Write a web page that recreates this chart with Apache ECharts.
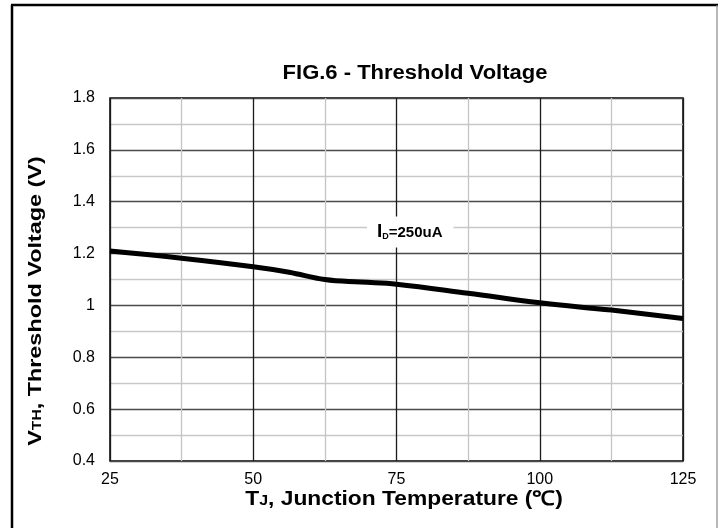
<!DOCTYPE html>
<html>
<head>
<meta charset="utf-8">
<script src="https://cdn.jsdelivr.net/npm/echarts@6/dist/echarts.min.js"></script>
<style>
html,body{margin:0;padding:0;background:#fff;}
#c{width:718px;height:528px;}
</style>
</head>
<body>
<div id="c"></div>
<script>
// Data
var tempC = [25, 37.5, 50, 56.25, 62.5, 68.75, 75, 87.5, 100, 112.5, 125];
var vth   = [1.21, 1.182, 1.149, 1.128, 1.100, 1.090, 1.082, 1.047, 1.010, 0.982, 0.950];
var xTicks = [25, 50, 75, 100, 125];
var yTicks = [0.4, 0.6, 0.8, 1, 1.2, 1.4, 1.6, 1.8];
var titleText = 'FIG.6 - Threshold Voltage';
var annotation = {x: 77.4, y: 1.283};

var chart = echarts.init(document.getElementById('c'), null, {renderer: 'canvas'});
var FONT = '"Liberation Sans", Arial, sans-serif';

var option = {
  animation: false,
  backgroundColor: '#fff',
  grid: {left: 110, right: 35, top: 98, bottom: 67, show: true, borderColor: '#000', borderWidth: 1.5, backgroundColor: 'transparent'},
  xAxis: {
    type: 'value', min: 25, max: 125, interval: 12.5,
    axisLine: {show: false}, axisTick: {show: false},
    axisLabel: {
      fontFamily: FONT, fontSize: 16, color: '#000', margin: 11,
      formatter: function (v) { return xTicks.indexOf(v) >= 0 ? String(v) : ''; }
    },
    splitLine: {show: true, lineStyle: {color: ['#1a1a1a', '#c4c4c4'], width: 1.3}}
  },
  yAxis: {
    type: 'value', min: 0.4, max: 1.8, interval: 0.1,
    axisLine: {show: false}, axisTick: {show: false},
    axisLabel: {
      fontFamily: FONT, fontSize: 16, color: '#000', margin: 15,
      formatter: function (v) {
        var r = Math.round(v * 10) / 10;
        for (var i = 0; i < yTicks.length; i++) { if (Math.abs(yTicks[i] - r) < 1e-6) return String(yTicks[i]); }
        return '';
      }
    },
    splitLine: {show: true, lineStyle: {color: ['#4a4a4a', '#c8c8c8'], width: 1.3}}
  },
  series: [{
    type: 'line',
    data: tempC.map(function (t, i) { return [t, vth[i]]; }),
    smooth: 0.4,
    symbol: 'none',
    lineStyle: {color: '#000', width: 5},
    z: 5,
    markPoint: {
      symbol: 'rect', symbolSize: 1,
      itemStyle: {color: 'rgba(0,0,0,0)'},
      data: [{coord: [annotation.x, annotation.y]}],
      label: {
        show: true, position: 'inside',
        backgroundColor: '#fff', padding: [6, 11, 6, 10],
        formatter: function () { return '{i|I}{b|D}{a|=250uA}'; },
        rich: {
          i: {fontFamily: FONT, fontSize: 19, fontWeight: 'bold', color: '#000'},
          a: {fontFamily: FONT, fontSize: 15, fontWeight: 'bold', color: '#000', padding: [2, 0, 0, 0]},
          b: {fontFamily: FONT, fontSize: 9, fontWeight: 'bold', color: '#000', padding: [9, 0, 0, 0]}
        }
      }
    }
  }],
  graphic: [
    {type: 'text', x: 415, y: 73, scaleX: 1.1, style: {text: titleText, fontFamily: FONT, fontSize: 20, fontWeight: 'bold', fill: '#000', align: 'center', verticalAlign: 'middle'}},
    {type: 'text', x: 404, y: 499, scaleX: 1.14, style: {
      text: '{a|T}{b|J}{a|, Junction Temperature (℃)}', align: 'center', verticalAlign: 'middle',
      rich: {
        a: {fontFamily: FONT, fontSize: 20, fontWeight: 'bold', fill: '#000'},
        b: {fontFamily: FONT, fontSize: 14, fontWeight: 'bold', fill: '#000', padding: [4, 0, 0, 0]}
      }}},
    {type: 'text', x: 36, y: 301, rotation: Math.PI / 2, scaleX: 1.3, style: {
      text: '{a|V}{b|TH}{a|, Threshold Voltage (V)}', align: 'center', verticalAlign: 'middle',
      rich: {
        a: {fontFamily: FONT, fontSize: 18, fontWeight: 'bold', fill: '#000'},
        b: {fontFamily: FONT, fontSize: 12, fontWeight: 'bold', fill: '#000', padding: [4, 0, 0, 0]}
      }}},
    {type: 'line', shape: {x1: 12, y1: 5, x2: 12, y2: 528}, style: {stroke: '#000', lineWidth: 2.5}},
    {type: 'line', shape: {x1: 11, y1: 5, x2: 718, y2: 5}, style: {stroke: '#000', lineWidth: 2.5}},
    {type: 'line', shape: {x1: 717, y1: 5, x2: 717, y2: 528}, style: {stroke: '#888', lineWidth: 1.2}}
  ]
};
chart.setOption(option);
</script>
</body>
</html>
